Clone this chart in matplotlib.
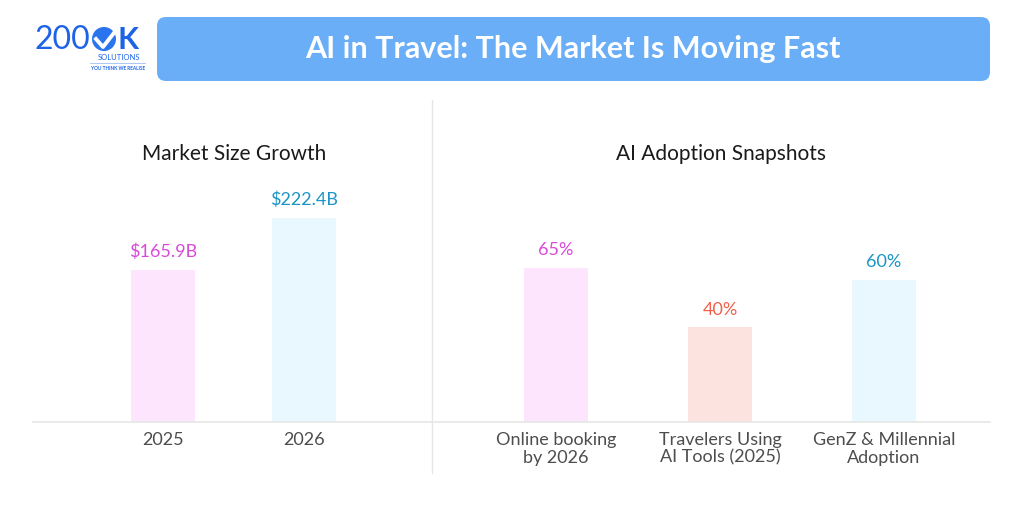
import matplotlib.pyplot as plt
from matplotlib.patches import FancyBboxPatch, Circle
from matplotlib.lines import Line2D

plt.rcParams['font.family'] = ['Lato', 'DejaVu Sans']

# data
market_years = ["2025", "2026"]
market_size = [165.9, 222.4]
market_labels = ["$165.9B", "$222.4B"]

adoption_cats = ["Online booking\nby 2026", "Travelers Using\nAI Tools (2025)", "GenZ & Millennial\nAdoption"]
adoption_pct = [65, 40, 60]
adoption_labels = ["65%", "40%", "60%"]

bar_colors = ["#fde6fd", "#fde3df", "#e8f8fe"]
label_colors = ["#d94ad8", "#f0604a", "#1a95c6"]

W, H = 1024, 507
fig = plt.figure(figsize=(W / 100, H / 100), dpi=100)
fig.patch.set_facecolor("white")


def px_axes(x0, y0, x1, y1):
    # pixel box (top-left origin) -> figure axes
    return fig.add_axes([x0 / W, 1 - y1 / H, (x1 - x0) / W, (y1 - y0) / H])


# header banner
bg = fig.add_axes([0, 0, 1, 1])
bg.set_xlim(0, W)
bg.set_ylim(H, 0)
bg.axis("off")
bg.add_patch(FancyBboxPatch((157, 17), 833, 64, boxstyle="round,pad=0,rounding_size=9",
                            facecolor="#6aaef7", edgecolor="none"))
bg.text(573, 49, "AI in Travel: The Market Is Moving Fast", color="white",
        fontsize=22, fontweight="bold", ha="center", va="center")

# logo
bg.text(35, 40, "200", color="#1d63e8", fontsize=23, ha="left", va="center")
bg.add_patch(Circle((104, 39), 12, facecolor="#2a74ee", edgecolor="none"))
bg.add_line(Line2D([96, 103, 117], [39, 47, 29], color="white", lw=2.8))
bg.text(117, 40, "K", color="#1d63e8", fontsize=22, fontweight="bold", ha="left", va="center")
bg.text(119, 57, "SOLUTIONS", color="#1d63e8", fontsize=5.5, ha="center", va="center")
bg.add_line(Line2D([90, 145], [63, 63], color="#9cbff5", lw=0.6))
bg.text(118, 69, "YOU THINK WE REALISE", color="#1d63e8", fontsize=3.4, fontweight="bold",
        ha="center", va="center")

# divider
bg.add_line(Line2D([431.5, 431.5], [100, 473], color="#e6e6e6", lw=1))

# section titles
bg.text(234, 154, "Market Size Growth", color="#1a1a1a", fontsize=15, ha="center", va="center")
bg.text(721, 154, "AI Adoption Snapshots", color="#1a1a1a", fontsize=15, ha="center", va="center")


def style(ax):
    for s in ["top", "right", "left"]:
        ax.spines[s].set_visible(False)
    ax.spines["bottom"].set_color("#e6e6e6")
    ax.spines["bottom"].set_linewidth(1.2)
    ax.set_yticks([])
    ax.tick_params(axis="x", length=0, pad=7, labelsize=13, labelcolor="#4d4d4d")
    ax.patch.set_alpha(0)


# left chart
ax1 = px_axes(33, 100, 432, 422)
ax1.bar(range(len(market_size)), market_size, width=0.454, color=[bar_colors[0], bar_colors[2]])
ax1.set_xlim(-0.922, 1.908)
ax1.set_ylim(0, 351)
ax1.set_xticks(range(len(market_years)))
ax1.set_xticklabels(market_years)
style(ax1)
for i, (v, lab) in enumerate(zip(market_size, market_labels)):
    ax1.annotate(lab, (i, v), xytext=(0, 7), textcoords="offset points", ha="center",
                 va="bottom", fontsize=13, color=[label_colors[0], label_colors[2]][i])

# right chart
ax2 = px_axes(432, 100, 990, 422)
ax2.bar(range(len(adoption_pct)), adoption_pct, width=0.39, color=bar_colors)
ax2.set_xlim(-0.756, 2.646)
ax2.set_ylim(0, 135.9)
ax2.set_xticks(range(len(adoption_cats)))
ax2.set_xticklabels(adoption_cats, linespacing=1.15)
style(ax2)
for i, (v, lab) in enumerate(zip(adoption_pct, adoption_labels)):
    ax2.annotate(lab, (i, v), xytext=(0, 7), textcoords="offset points", ha="center",
                 va="bottom", fontsize=13, color=label_colors[i])

fig.savefig("out.png", dpi=100)
